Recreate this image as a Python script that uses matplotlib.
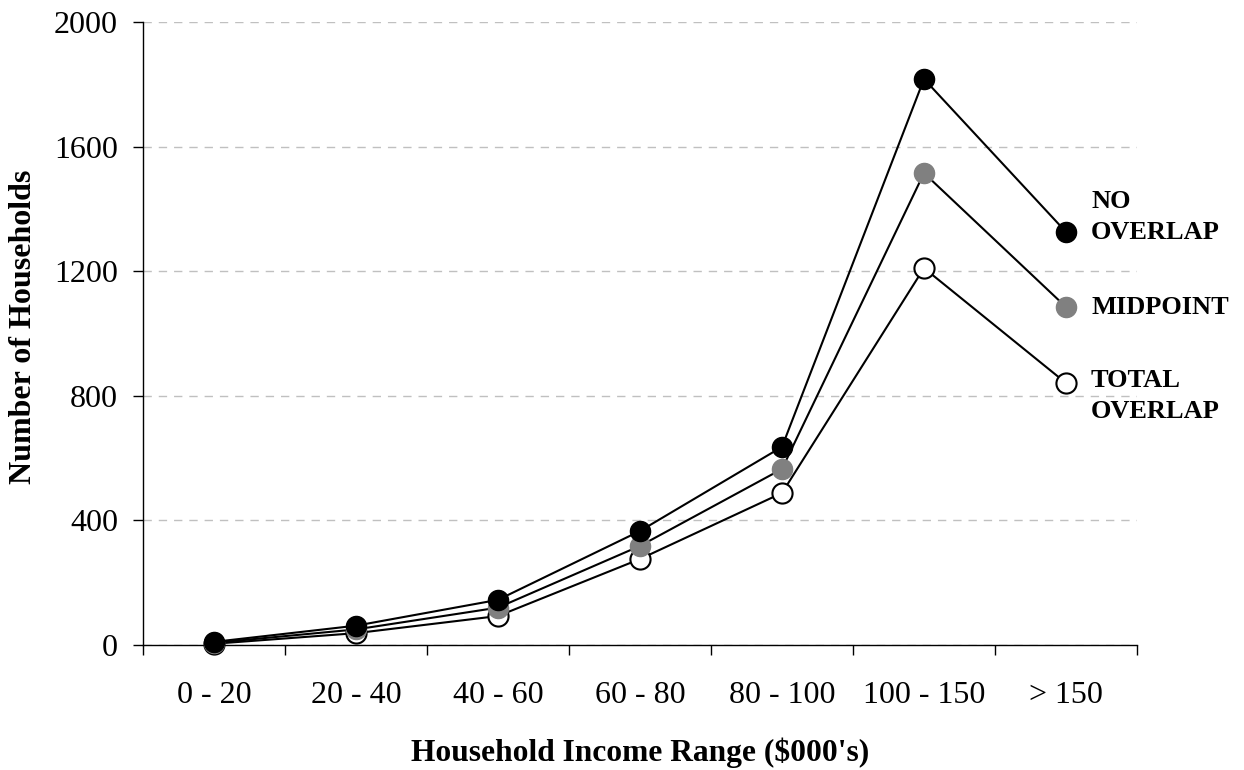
import matplotlib
matplotlib.use("Agg")
import matplotlib.pyplot as plt
import numpy as np

categories = ["0 - 20", "20 - 40", "40 - 60", "60 - 80", "80 - 100", "100 - 150", "> 150"]
no_overlap = [10, 62, 145, 366, 636, 1817, 1326]
midpoint = [7, 50, 120, 318, 565, 1515, 1085]
total_overlap = [4, 38, 93, 276, 488, 1210, 841]
yticks = [0, 400, 800, 1200, 1600, 2000]

plt.rcParams['font.family'] = ['Liberation Serif', 'DejaVu Serif']

fig = plt.figure(figsize=(12.44, 7.70), dpi=100)
ax = fig.add_axes([143/1244, 125/770, (1137-143)/1244, (645-22)/770])

x = np.arange(len(categories))
lw = 1.5
ms = 14.5
ax.plot(x, total_overlap, '-o', color='black', lw=lw, marker='o', ms=ms,
        mfc='white', mec='black', mew=1.5, zorder=3, clip_on=False)
ax.plot(x, midpoint, '-o', color='black', lw=lw, marker='o', ms=ms,
        mfc='#808080', mec='#808080', mew=1.0, zorder=4, clip_on=False)
ax.plot(x, no_overlap, '-o', color='black', lw=lw, marker='o', ms=ms,
        mfc='black', mec='black', mew=1.0, zorder=5, clip_on=False)

# series labels
lab_kw = dict(fontsize=19, fontweight='bold', ha='left', va='center',
              textcoords='offset points', linespacing=1.45)
ax.annotate("NO\nOVERLAP", (x[-1], no_overlap[-1]), xytext=(18, 11), **lab_kw)
ax.annotate("MIDPOINT", (x[-1], midpoint[-1]), xytext=(18, 0), **lab_kw)
ax.annotate("TOTAL\nOVERLAP", (x[-1], total_overlap[-1]), xytext=(18, -9.5), **lab_kw)

ax.set_xlim(-0.5, len(categories) - 0.5)
ax.set_ylim(0, 2000)
ax.set_yticks(yticks)
ax.set_xticks(x)
ax.set_xticklabels(categories, fontsize=23)
ax.set_xticks(np.arange(-0.5, len(categories), 1.0), minor=True)
ax.tick_params(axis='x', which='major', length=0, pad=26)
ax.tick_params(axis='x', which='minor', length=7, width=1, direction='out')
ax.tick_params(axis='y', which='major', length=7, width=1, direction='out',
               labelsize=23, pad=11)

ax.grid(axis='y', color='#c0c0c0', linestyle=(0, (6, 5)), linewidth=1)
ax.set_axisbelow(True)
for s in ['top', 'right']:
    ax.spines[s].set_visible(False)
ax.spines['left'].set_linewidth(1)
ax.spines['bottom'].set_linewidth(1)

ax.set_xlabel("Household Income Range ($000's)", fontsize=22.7, fontweight='bold', labelpad=20)
ax.set_ylabel("Number of Households", fontsize=23, fontweight='bold')
ax.yaxis.set_label_coords(-0.106, 0.51)

fig.savefig("out.png", dpi=100, facecolor='white')
